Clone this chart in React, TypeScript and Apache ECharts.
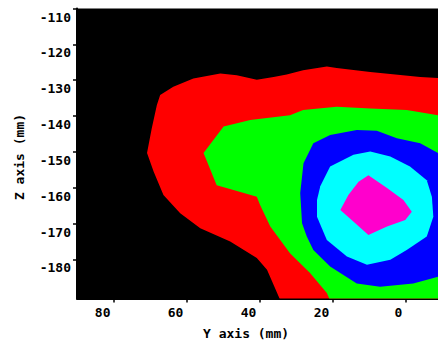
import React, { useEffect, useRef } from "react";
import * as echarts from "echarts";

// Axis ranges (data units, mm)
const xRange = [-20, 90]; // shown reversed: 90 on the left
const zRange = [-190.9, -110];
const xTickValues = [80, 60, 40, 20, 0];
const zTickValues = [-110, -120, -130, -140, -150, -160, -170, -180];
const xAxisTitle = "Y axis (mm)";
const zAxisTitle = "Z axis (mm)";

// Contour level polygons [x, z]
const redLevel: number[][] = [
  [-20, -129.9], [-9.0, -129.4], [-4.1, -129.1], [9.6, -127.7], [18.8, -126.6], [21.5, -126.2],
  [28.0, -127.2], [32.5, -128.4], [36.1, -129.1], [40.7, -129.9], [46.2, -128.6], [50.7, -128.1],
  [58.1, -129.5], [63.6, -131.8], [67.2, -134.1], [68.1, -136.9], [69.5, -143.4], [70.8, -150.3],
  [69.0, -155.5], [66.3, -162.0], [61.7, -167.1], [56.2, -171.3], [48.0, -175.0], [40.7, -179.6],
  [37.9, -182.9], [34.3, -191.3], [33.5, -197], [-20, -197],
];
const greenLevel: number[][] = [
  [-20, -140.7], [-9.0, -139.8], [-0.4, -138.3], [9.6, -137.9], [18.8, -137.4], [28.0, -138.3],
  [31.6, -139.8], [42.5, -141.1], [49.8, -142.9], [55.3, -150.3], [51.7, -159.3], [47.1, -160.6],
  [40.7, -162.5], [39.8, -164.8], [37.0, -170.8], [31.6, -178.3], [26.1, -183.8], [21.5, -189.4],
  [20.5, -191.7], [19.5, -197], [-20, -197],
];
const blueLevel: number[][] = [
  [-20, -156.1], [-9.0, -150.3], [-4.1, -147.6], [2.3, -146.2], [7.8, -144.1], [13.3, -143.9],
  [20.6, -145.3], [25.2, -147.6], [27.9, -153.2], [28.8, -161.5], [28.3, -169.9], [27.0, -173.6],
  [25.2, -177.4], [20.6, -182.0], [13.3, -186.7], [6.9, -187.6], [-2.2, -186.7], [-9.0, -184.8],
  [-20, -181.8],
];
const cyanLevel: number[][] = [
  [9.6, -149.9], [4.1, -151.3], [-1.3, -154.1], [-5.9, -157.9], [-7.3, -162.5], [-7.7, -168.1],
  [-5.9, -173.6], [-0.4, -177.4], [4.1, -180.1], [10.5, -181.5], [16.0, -179.2], [21.5, -174.6],
  [24.2, -168.1], [24.2, -163.4], [23.3, -159.6], [20.6, -154.1], [14.2, -150.8],
];
const magentaLevel: number[][] = [
  [10.1, -156.5], [5.0, -160.1], [0.5, -163.4], [-1.8, -166.7], [0.0, -169.0], [5.0, -170.8],
  [10.1, -173.2], [13.7, -169.9], [17.8, -166.2], [15.6, -162.0], [12.8, -158.3],
];

const levels = [redLevel, greenLevel, blueLevel, cyanLevel, magentaLevel];
const levelColors = ["#ff0000", "#00ff00", "#0000ff", "#00ffff", "#ff00cc"];

const FONT = "'DejaVu Sans Mono', monospace";

export default function App() {
  const ref = useRef<HTMLDivElement>(null);
  useEffect(() => {
    if (!ref.current) return;
    const chart = echarts.init(ref.current, null, { renderer: "svg" });
    const series = levels.map((poly, i) => ({
      type: "custom",
      clip: true,
      data: poly,
      encode: { x: 0, y: 1 },
      renderItem: (params: any, api: any) => {
        if (params.dataIndex !== 0) return null;
        const pts = poly.map((p) => api.coord(p));
        return {
          type: "polygon",
          shape: { points: pts },
          style: { fill: levelColors[i], stroke: null },
        };
      },
      z: 2 + i,
    }));
    chart.setOption({
      animation: false,
      backgroundColor: "#ffffff",
      grid: {
        left: 77,
        top: 8.5,
        bottom: 44.5,
        right: -40.2,
        show: true,
        backgroundColor: "#000000",
        borderWidth: 0,
        containLabel: false,
        outerBoundsMode: "none",
      },
      xAxis: {
        type: "value",
        inverse: true,
        position: "bottom",
        min: xRange[0],
        max: xRange[1],
        splitLine: { show: false },
        axisLine: { show: true, onZero: false, lineStyle: { color: "#000", width: 2 } },
        axisTick: {
          show: true,
          inside: false,
          length: 4,
          customValues: xTickValues,
          lineStyle: { color: "#000", width: 1.5 },
        },
        axisLabel: {
          color: "#000",
          fontFamily: FONT,
          fontWeight: "bold",
          fontSize: 13,
          align: "right",
          margin: 7,
          padding: [0, 3, 0, 0],
          customValues: xTickValues,
        },
      },
      yAxis: {
        type: "value",
        position: "left",
        min: zRange[0],
        max: zRange[1],
        splitLine: { show: false },
        axisLine: { show: true, onZero: false, lineStyle: { color: "#000", width: 2 } },
        axisTick: {
          show: true,
          inside: false,
          length: 4,
          customValues: zTickValues,
          lineStyle: { color: "#000", width: 1.5 },
        },
        axisLabel: {
          color: "#000",
          fontFamily: FONT,
          fontWeight: "bold",
          fontSize: 13,
          verticalAlign: "top",
          padding: [2, 0, 0, 0],
          margin: 6,
          customValues: zTickValues,
        },
      },
      graphic: [
        {
          type: "text",
          left: 203,
          top: 327,
          style: {
            text: xAxisTitle,
            fontFamily: FONT,
            fontWeight: "bold",
            fontSize: 13,
            fill: "#000",
          },
        },
        {
          type: "text",
          x: 19,
          y: 157,
          rotation: Math.PI / 2,
          style: {
            text: zAxisTitle,
            fontFamily: FONT,
            fontWeight: "bold",
            fontSize: 13,
            fill: "#000",
            align: "center",
            verticalAlign: "middle",
          },
        },
      ],
      series,
    });
    return () => chart.dispose();
  }, []);
  return (
    <div
      ref={ref}
      style={{ position: "fixed", left: 0, top: 0, width: 438, height: 343 }}
    />
  );
}
